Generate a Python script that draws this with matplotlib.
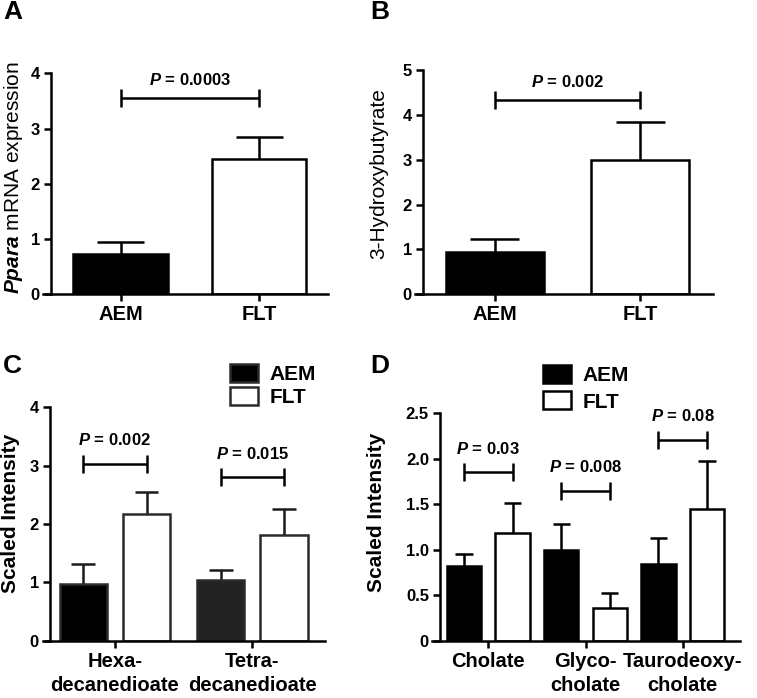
import matplotlib
matplotlib.use('Agg')
import matplotlib.pyplot as plt

plt.rcParams['font.family'] = ['Liberation Sans', 'DejaVu Sans']
plt.rcParams['font.weight'] = 'bold'
plt.rcParams['mathtext.fontset'] = 'custom'
plt.rcParams['mathtext.rm'] = 'Liberation Sans'
plt.rcParams['mathtext.it'] = 'Liberation Sans:italic'
plt.rcParams['mathtext.bf'] = 'Liberation Sans:bold'
plt.rcParams['mathtext.bfit'] = 'Liberation Sans:italic:bold'

# ---------------- data ----------------
groups_ab = ['AEM', 'FLT']

a_mean = [0.73, 2.44]
a_err = [0.22, 0.40]
a_bracket = 3.56
a_p = '0.0003'

b_mean = [0.94, 3.00]
b_err = [0.29, 0.83]
b_bracket = 4.33
b_p = '0.002'

c_cats = ['Hexa-\ndecanedioate', 'Tetra-\ndecanedioate']
c_aem = [0.98, 1.04]
c_aem_err = [0.33, 0.17]
c_flt = [2.17, 1.82]
c_flt_err = [0.38, 0.44]
c_bracket = [3.03, 2.80]
c_p = ['0.002', '0.015']

d_cats = ['Cholate', 'Glyco-\ncholate', 'Taurodeoxy-\ncholate']
d_aem = [0.82, 1.00, 0.84]
d_aem_err = [0.13, 0.28, 0.29]
d_flt = [1.18, 0.36, 1.45]
d_flt_err = [0.33, 0.16, 0.53]
d_bracket = [1.85, 1.65, 2.21]
d_p = ['0.03', '0.008', '0.08']

series_labels = ['AEM', 'FLT']

# ---------------- layout ----------------
W, H = 757, 698
fig = plt.figure(figsize=(W / 100, H / 100), dpi=100)
LW = 1.8


def add_axes_px(x0, x1, ytop, ybot):
    return fig.add_axes([x0 / W, 1 - ybot / H, (x1 - x0) / W, (ybot - ytop) / H])


def style_axes(ax, spine_frac):
    for s in ['top', 'right']:
        ax.spines[s].set_visible(False)
    ax.spines['left'].set_position(('axes', spine_frac))
    ax.spines['left'].set_linewidth(LW)
    ax.spines['bottom'].set_linewidth(LW)
    ax.tick_params(axis='y', length=5, width=LW, pad=3, labelsize=12)
    ax.tick_params(axis='x', length=5, width=LW, pad=3)
    ax.patch.set_alpha(0)


def err_up(ax, x, top, err, width, color='black'):
    ax.vlines(x, top, top + err, color=color, lw=LW, zorder=1)
    ax.hlines(top + err, x - width / 4, x + width / 4, color=color, lw=LW, zorder=3)


def bracket(ax, x1, x2, y, ptxt, off):
    ax.plot([x1, x2], [y, y], color='black', lw=LW, marker='|', ms=13, mew=LW,
            clip_on=False, solid_capstyle='butt')
    ax.annotate(r'$\mathbfit{P}$ = ' + ptxt, xy=((x1 + x2) / 2, y), xytext=(0, off),
                textcoords='offset points', ha='center', va='baseline',
                fontsize=12, fontweight='bold')


# ---------------- Panel A ----------------
axA = add_axes_px(43, 328, 73.3, 294.3)
style_axes(axA, 8 / 285)
xa = list(range(len(groups_ab)))
wa = 0.68
axA.bar(xa, a_mean, width=wa, color=['black', 'white'], edgecolor='black', lw=LW, zorder=2)
for i in xa:
    err_up(axA, i, a_mean[i], a_err[i], wa)
bracket(axA, xa[0], xa[1], a_bracket, a_p, 9.4)
axA.set_xlim(-0.559, 1.496)
axA.set_ylim(0, 4)
axA.set_yticks([0, 1, 2, 3, 4])
axA.set_xticks(xa)
axA.set_xticklabels(groups_ab, fontsize=14.5, fontweight='bold')

# ---------------- Panel B ----------------
axB = add_axes_px(415, 712.7, 70, 294.3)
style_axes(axB, 8 / 297.7)
wb = 0.675
axB.bar(xa, b_mean, width=wb, color=['black', 'white'], edgecolor='black', lw=LW, zorder=2)
for i in xa:
    err_up(axB, i, b_mean[i], b_err[i], wb)
bracket(axB, xa[0], xa[1], b_bracket, b_p, 9.4)
axB.set_xlim(-0.551, 1.5)
axB.set_ylim(0, 5)
axB.set_yticks([0, 1, 2, 3, 4, 5])
axB.set_xticks(xa)
axB.set_xticklabels(groups_ab, fontsize=14.5, fontweight='bold')

# ---------------- Panel C ----------------
axC = add_axes_px(43, 325, 407.3, 640.7)
style_axes(axC, 7 / 282)
xc = list(range(len(c_cats)))
wc, oc = 0.347, 0.23
c_edge = '#2b2b2b'
barsC_aem = axC.bar([x - oc for x in xc], c_aem, width=wc, color=['#000000', '#232323'],
                    edgecolor=c_edge, lw=LW, zorder=2, label=series_labels[0])
barsC_flt = axC.bar([x + oc for x in xc], c_flt, width=wc, color='white',
                    edgecolor=c_edge, lw=LW, zorder=2, label=series_labels[1])
for i in xc:
    err_up(axC, i - oc, c_aem[i], c_aem_err[i], wc, color='#1a1a1a')
    err_up(axC, i + oc, c_flt[i], c_flt_err[i], wc, color='#1a1a1a')
    bracket(axC, i - oc, i + oc, c_bracket[i], c_p[i], 13.3)
axC.set_xlim(-0.524, 1.53)
axC.set_ylim(0, 4)
axC.set_yticks([0, 1, 2, 3, 4])
axC.set_xticks(xc)
axC.set_xticklabels(c_cats, fontsize=14.5, fontweight='bold')
for lbl in axC.get_xticklabels():
    lbl.set_linespacing(1.35)
axC.legend(handles=[barsC_aem, barsC_flt], labels=series_labels, loc='upper left',
           bbox_to_anchor=(230 / W, 1 - 364 / H), bbox_transform=fig.transFigure,
           frameon=False, borderpad=0, borderaxespad=0, handlelength=1.35,
           handleheight=0.95, handletextpad=0.55, labelspacing=0.13,
           prop={'weight': 'bold', 'size': 15})

# ---------------- Panel D ----------------
axD = add_axes_px(432, 740, 413.3, 640.7)
style_axes(axD, 8 / 308)
xd = list(range(len(d_cats)))
wd, od = 0.355, 0.25
barsD_aem = axD.bar([x - od for x in xd], d_aem, width=wd, color='black',
                    edgecolor='black', lw=LW, zorder=2, label=series_labels[0])
barsD_flt = axD.bar([x + od for x in xd], d_flt, width=wd, color='white',
                    edgecolor='black', lw=LW, zorder=2, label=series_labels[1])
for i in xd:
    err_up(axD, i - od, d_aem[i], d_aem_err[i], wd)
    err_up(axD, i + od, d_flt[i], d_flt_err[i], wd)
    bracket(axD, i - od, i + od, d_bracket[i], d_p[i], 13.3)
axD.set_xlim(-0.58, 2.59)
axD.set_ylim(0, 2.5)
axD.set_yticks([0, 0.5, 1.0, 1.5, 2.0, 2.5])
axD.set_yticklabels(['0', '0.5', '1.0', '1.5', '2.0', '2.5'])
axD.set_xticks(xd)
axD.set_xticklabels(d_cats, fontsize=14.5, fontweight='bold')
for lbl in axD.get_xticklabels():
    lbl.set_linespacing(1.35)
axD.legend(handles=[barsD_aem, barsD_flt], labels=series_labels, loc='upper left',
           bbox_to_anchor=(543 / W, 1 - 365 / H), bbox_transform=fig.transFigure,
           frameon=False, borderpad=0, borderaxespad=0, handlelength=1.35,
           handleheight=0.95, handletextpad=0.55, labelspacing=0.3,
           prop={'weight': 'bold', 'size': 15})

# ---------------- y labels ----------------
fig.text(2 / W, 1 - 178 / H, r'$\mathit{Ppara}$ mRNA expression', rotation=90,
         ha='left', va='center', fontsize=15, fontweight='normal')
fig.text(369 / W, 1 - 174 / H, '3-Hydroxybutyrate', rotation=90,
         ha='left', va='center', fontsize=15, fontweight='normal')
fig.text(1 / W, 1 - 513 / H, 'Scaled Intensity', rotation=90,
         ha='left', va='center', fontsize=15, fontweight='bold')
fig.text(367 / W, 1 - 512 / H, 'Scaled Intensity', rotation=90,
         ha='left', va='center', fontsize=15, fontweight='bold')

# ---------------- panel letters ----------------
for letter, (px, py) in zip('ABCD', [(3, 0), (370, 0), (3, 354), (370, 354)]):
    fig.text(px / W, 1 - py / H, letter, fontsize=19, fontweight='bold',
             ha='left', va='top')

fig.savefig('out.png', dpi=100)
